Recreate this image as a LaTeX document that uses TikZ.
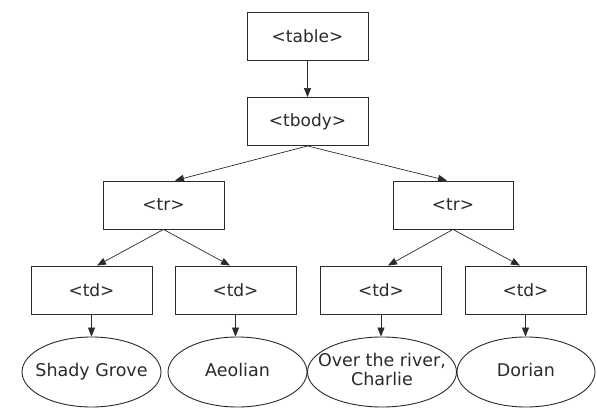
\documentclass[tikz,border=0pt]{standalone}
\usepackage{fontspec}
\setmainfont{DejaVu Sans}
\usetikzlibrary{arrows.meta,shapes.geometric}
\definecolor{ink}{HTML}{2a2a2a}
\newcommand{\leaftext}[1]{\makebox[0pt][c]{\begin{tabular}{@{}c@{}}#1\end{tabular}}}
\tikzset{
  tag/.style={draw=ink, line width=0.9pt, rectangle, minimum width=121pt, minimum height=48pt, inner sep=0pt, font=\fontsize{17}{19}\selectfont, text=ink},
  leaf/.style={draw=ink, line width=0.9pt, ellipse, minimum width=139pt, minimum height=70pt, inner sep=0pt, font=\fontsize{17.5}{17}\selectfont, text=ink},
  link/.style={draw=ink, line width=0.7pt, -{Triangle[length=9pt,width=7pt]}}
}
\begin{document}
\begin{tikzpicture}[x=1pt,y=-1pt]
\useasboundingbox (0,0) rectangle (597,409);
\node[tag] (table) at (307.5,36) {<table>};
\node[tag] (tbody) at (307.5,121.5) {<tbody>};
\node[tag] (trL) at (163.5,205) {<tr>};
\node[tag, minimum width=120pt] (trR) at (453,205) {<tr>};
\node[tag] (td1) at (91.5,290) {<td>};
\node[tag] (td2) at (235.5,290) {<td>};
\node[tag] (td3) at (381,290) {<td>};
\node[tag] (td4) at (525.5,290) {<td>};
\node[leaf] (e1) at (91.5,372) {\leaftext{Shady Grove}};
\node[leaf] (e2) at (237.5,372) {\leaftext{Aeolian}};
\node[leaf, minimum width=149pt] (e3) at (382,372) {\leaftext{Over the river,\\Charlie}};
\node[leaf, minimum width=138pt] (e4) at (526,372) {\leaftext{Dorian}};
\draw[link] (table.south) -- (tbody.north);
\draw[link] (tbody.south) -- ([xshift=11.5pt]trL.north);
\draw[link] (tbody.south) -- ([xshift=-6pt]trR.north);
\draw[link] (trL.south) -- ([xshift=5.5pt]td1.north);
\draw[link] (trL.south) -- ([xshift=-5.5pt]td2.north);
\draw[link] (trR.south) -- ([xshift=7pt]td3.north);
\draw[link] (trR.south) -- ([xshift=-5.5pt]td4.north);
\draw[link] (td1.south) -- (td1.south |- e1.north);
\draw[link] (td2.south) -- (td2.south |- e2.north);
\draw[link] (td3.south) -- (td3.south |- e3.north);
\draw[link] (td4.south) -- (td4.south |- e4.north);
\end{tikzpicture}
\end{document}
